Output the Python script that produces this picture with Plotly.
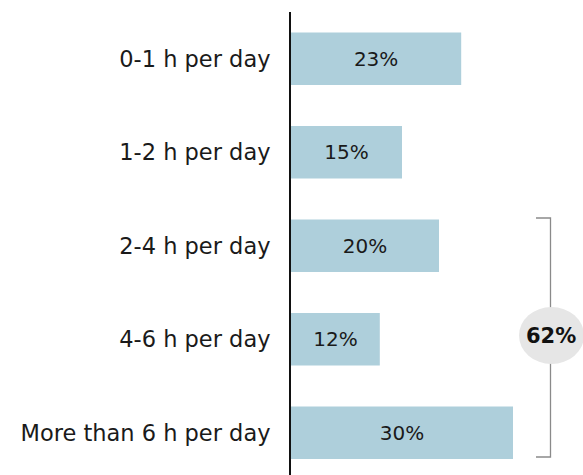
import plotly.graph_objects as go

categories = ["0-1 h per day", "1-2 h per day", "2-4 h per day", "4-6 h per day", "More than 6 h per day"]
values = [23, 15, 20, 12, 30]
group_total_label = "62%"

FONT = "DejaVu Sans"
W, H = 583, 475
L, T, B, R = 291, 12, 0, 0

fig = go.Figure(go.Bar(
    x=values, y=categories, orientation="h",
    marker=dict(color="#aecfdb", line=dict(width=0)),
    width=0.56,
    text=[f"{v}%" for v in values], textposition="inside", insidetextanchor="middle",
    textfont=dict(family=FONT, size=20, color="#1a1a1a"),
    hoverinfo="skip",
))

plot_w = W - L - R
plot_h = H - T - B
spacing = 93.5

fig.update_layout(
    width=W, height=H,
    margin=dict(l=L, r=R, t=T, b=B, pad=0),
    paper_bgcolor="white", plot_bgcolor="white",
    showlegend=False,
    xaxis=dict(range=[0, plot_w / 7.4], visible=False, fixedrange=True),
    yaxis=dict(
        categoryorder="array", categoryarray=categories,
        range=[-0.5 + plot_h / spacing, -0.5],
        showline=True, linecolor="#111", linewidth=2,
        showgrid=False, zeroline=False, ticks="",
        tickfont=dict(family=FONT, size=22.5, color="#1a1a1a"),
        ticklabelstandoff=14,
    ),
)

def px(x):
    return (x - L) / plot_w

def py(y):
    return 1 - (y - T) / plot_h

gray = "#8a8a8a"
# bracket
fig.add_shape(type="path", xref="paper", yref="paper",
              path=f"M {px(536)} {py(218)} L {px(550.5)} {py(218)} L {px(550.5)} {py(457)} L {px(536)} {py(457)}",
              line=dict(color=gray, width=1.3))
# ellipse
fig.add_shape(type="circle", xref="paper", yref="paper",
              x0=px(519), x1=px(584), y0=py(307), y1=py(364),
              fillcolor="#e6e6e6", line=dict(width=0))
fig.add_annotation(xref="paper", yref="paper", x=px(550.5), y=py(335.5),
                   xanchor="center", yanchor="middle",
                   text=f"<b>{group_total_label}</b>", showarrow=False,
                   font=dict(family=FONT, size=21, color="#111"))

fig.write_html("out.html")
